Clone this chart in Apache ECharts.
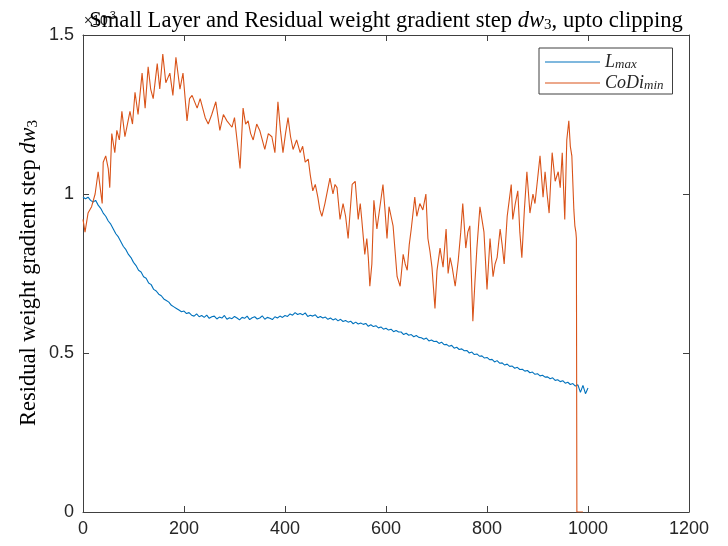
<!DOCTYPE html>
<html>
<head>
<meta charset="utf-8">
<script src="https://cdn.jsdelivr.net/npm/echarts@6/dist/echarts.min.js"></script>
<style>html,body{margin:0;padding:0;background:#fff}#c{width:728px;height:546px}</style>
</head>
<body>
<div id="c"></div>
<script>
// ---- data (values in units of 1e-3) ----
const xTicks = [0, 200, 400, 600, 800, 1000, 1200];
const yTicks = [0, 0.5, 1, 1.5];

const lmaxIter = [0,5,10,15,20,25,30,35,40,45,50,55,60,65,70,75,80,85,90,95,100,105,110,115,120,125,130,135,140,145,150,155,160,165,170,175,180,185,190,195,
200,205,210,215,220,225,230,235,240,245,250,255,260,265,270,275,280,285,290,295,300,305,310,315,320,325,330,335,340,345,350,355,360,365,370,375,380,385,390,395,
400,405,410,415,420,425,430,435,440,445,450,455,460,465,470,475,480,485,490,495,500,505,510,515,520,525,530,535,540,545,550,555,560,565,570,575,580,585,590,595,
600,605,610,615,620,625,630,635,640,645,650,655,660,665,670,675,680,685,690,695,700,705,710,715,720,725,730,735,740,745,750,755,760,765,770,775,780,785,790,795,
800,805,810,815,820,825,830,835,840,845,850,855,860,865,870,875,880,885,890,895,900,905,910,915,920,925,930,935,940,945,950,955,960,965,970,975,980,985,990,995,1000];
const lmaxVal = [0.99,0.985,0.99,0.98,0.975,0.98,0.965,0.955,0.94,0.93,0.915,0.905,0.89,0.875,0.865,0.85,0.835,0.825,0.81,0.80,0.785,0.775,0.76,0.755,0.74,0.735,0.72,0.715,0.70,0.695,0.685,0.68,0.67,0.665,0.66,0.65,0.645,0.64,0.635,0.63,
0.632,0.624,0.627,0.619,0.616,0.623,0.614,0.618,0.612,0.619,0.609,0.614,0.616,0.607,0.613,0.61,0.618,0.606,0.611,0.608,0.615,0.61,0.604,0.612,0.609,0.616,0.605,0.611,0.614,0.607,0.61,0.617,0.606,0.612,0.609,0.605,0.614,0.61,0.616,0.612,
0.618,0.615,0.623,0.619,0.627,0.621,0.624,0.62,0.626,0.615,0.619,0.616,0.62,0.611,0.615,0.61,0.613,0.606,0.61,0.604,0.608,0.601,0.606,0.599,0.602,0.597,0.60,0.592,0.597,0.591,0.594,0.59,0.593,0.584,0.589,0.583,0.586,0.579,0.582,0.575,
0.578,0.572,0.575,0.567,0.571,0.566,0.566,0.558,0.562,0.556,0.558,0.551,0.555,0.549,0.548,0.543,0.547,0.538,0.541,0.536,0.537,0.53,0.534,0.526,0.527,0.521,0.524,0.515,0.518,0.511,0.513,0.507,0.508,0.50,0.503,0.495,0.497,0.49,0.491,0.484,
0.486,0.479,0.48,0.472,0.476,0.468,0.469,0.462,0.465,0.458,0.459,0.452,0.455,0.448,0.449,0.443,0.445,0.438,0.44,0.433,0.435,0.428,0.43,0.424,0.425,0.419,0.422,0.414,0.416,0.41,0.413,0.405,0.408,0.401,0.404,0.396,0.40,0.376,0.398,0.372,0.39];

const codiIter = [0,4,10,17,24,30,34,38,40,45,50,53,57,63,67,72,77,83,88,93,98,103,109,117,123,129,134,139,147,152,158,164,172,178,184,192,198,206,211,216,226,232,242,248,255,263,271,278,285,295,300,305,311,317,322,327,332,337,344,350,360,367,374,380,386,391,396,401,406,411,416,423,430,435,440,446,450,455,460,465,469,473,479,484,489,495,499,503,509,515,520,525,533,539,545,549,552,558,562,565,568,572,576,582,588,594,598,602,606,610,614,618,622,628,634,638,642,646,650,657,661,667,673,679,683,687,691,697,701,707,713,719,723,727,731,737,743,748,752,758,762,766,772,776,780,786,790,794,800,806,812,816,820,826,830,834,840,844,848,851,856,861,865,869,874,879,885,891,895,899,905,911,915,919,923,929,935,941,945,949,954,958,962,965,968,972,974,976,977,978,990];
const codiVal = [0.92,0.88,0.94,0.96,1.00,1.07,1.02,0.97,1.10,1.12,1.08,1.02,1.19,1.13,1.20,1.17,1.26,1.18,1.22,1.26,1.22,1.32,1.25,1.38,1.27,1.40,1.33,1.30,1.41,1.33,1.44,1.35,1.38,1.31,1.43,1.33,1.38,1.23,1.30,1.31,1.27,1.30,1.24,1.22,1.25,1.29,1.20,1.25,1.23,1.21,1.24,1.17,1.08,1.27,1.22,1.23,1.19,1.17,1.22,1.20,1.14,1.19,1.18,1.13,1.29,1.20,1.13,1.19,1.24,1.18,1.14,1.17,1.13,1.15,1.10,1.11,1.06,1.01,1.03,0.99,0.95,0.93,0.97,1.01,1.05,1.00,1.03,1.02,0.92,0.97,0.93,0.86,1.03,1.04,0.92,0.97,0.92,0.81,0.86,0.80,0.71,0.78,0.98,0.89,0.96,1.03,0.95,0.86,0.96,0.93,0.90,0.82,0.74,0.71,0.81,0.78,0.76,0.84,0.89,0.99,0.93,0.97,0.95,1.00,0.86,0.82,0.77,0.64,0.76,0.83,0.77,0.89,0.75,0.80,0.77,0.71,0.79,0.88,0.97,0.83,0.88,0.90,0.60,0.72,0.83,0.96,0.92,0.88,0.70,0.86,0.74,0.78,0.80,0.89,0.84,0.78,0.93,0.98,1.03,0.92,0.97,1.01,0.88,0.80,0.95,1.07,0.94,1.00,0.97,1.03,1.12,0.99,1.07,1.00,0.94,1.13,1.04,1.07,1.02,1.13,0.92,1.17,1.23,1.15,1.12,0.95,0.90,0.88,0.86,0,0];

const C_BLUE = '#0072BD';
const C_ORANGE = '#D95319';
const AX = '#404040';
const SERIF = '"Liberation Serif", "DejaVu Serif", serif';
const SANS = '"Liberation Sans", Arial, sans-serif';

const chart = echarts.init(document.getElementById('c'), null, {renderer: 'canvas'});

const G = {left: 83, top: 35, right: 728 - 689, bottom: 546 - 512};

function baseAxis(extra) {
  return Object.assign({
    type: 'value',
    splitLine: {show: false},
    axisLine: {show: true, onZero: false, lineStyle: {color: AX, width: 1}},
    axisTick: {show: true, inside: true, length: 6, lineStyle: {color: AX, width: 1}},
  }, extra);
}

chart.setOption({
  animation: false,
  backgroundColor: '#fff',
  grid: Object.assign({containLabel: false}, G),
  xAxis: [
    baseAxis({position: 'bottom', min: xTicks[0], max: xTicks[xTicks.length - 1], interval: 200,
      axisLabel: {show: true, margin: 8, fontFamily: SANS, fontSize: 18, color: '#262626',
        formatter: v => String(v)}}),
    baseAxis({position: 'top', min: xTicks[0], max: xTicks[xTicks.length - 1], interval: 200,
      axisLabel: {show: false}})
  ],
  yAxis: [
    baseAxis({position: 'left', min: yTicks[0], max: yTicks[yTicks.length - 1], interval: 0.5,
      axisLabel: {show: true, margin: 9, fontFamily: SANS, fontSize: 18, color: '#262626',
        formatter: v => String(v)}}),
    baseAxis({position: 'right', min: yTicks[0], max: yTicks[yTicks.length - 1], interval: 0.5,
      axisLabel: {show: false}})
  ],
  legend: {
    orient: 'vertical',
    left: 539, top: 48,
    padding: [5, 9, 2, 6],
    itemGap: 3,
    itemWidth: 55, itemHeight: 1.2,
    backgroundColor: '#fff',
    borderColor: AX, borderWidth: 1,
    data: [{name: 'Lmax', icon: 'rect'}, {name: 'CoDimin', icon: 'rect'}],
    formatter: name => name === 'Lmax' ? '{i|L}{s|max}' : '{i|CoDi}{s|min}',
    textStyle: {
      color: '#262626',
      rich: {
        i: {fontFamily: SERIF, fontStyle: 'italic', fontSize: 18, lineHeight: 18, color: '#262626'},
        s: {fontFamily: SERIF, fontStyle: 'italic', fontSize: 13, lineHeight: 10, verticalAlign: 'bottom', color: '#262626'}
      }
    }
  },
  series: [
    {name: 'Lmax', type: 'line', xAxisIndex: 0, yAxisIndex: 0, showSymbol: false, symbol: 'none',
      lineStyle: {color: C_BLUE, width: 1.1}, itemStyle: {color: C_BLUE},
      data: lmaxIter.map((x, i) => [x, lmaxVal[i]])},
    {name: 'CoDimin', type: 'line', xAxisIndex: 0, yAxisIndex: 0, showSymbol: false, symbol: 'none',
      lineStyle: {color: C_ORANGE, width: 1.1}, itemStyle: {color: C_ORANGE},
      data: codiIter.map((x, i) => [x, codiVal[i]])}
  ],
  graphic: [
    {type: 'text', left: 84, top: 14, z: 10, style: {text: '×10', font: '14px ' + SANS, fill: '#262626'}},
    {type: 'text', left: 106, top: 10, z: 10, style: {text: '-3', font: '11px ' + SANS, fill: '#262626'}},
    {type: 'text', x: 386, y: 21, z: 11, style: {
      text: '{a|Small Layer and Residual weight gradient step }{i|dw}{s|3}{a|, upto clipping}',
      align: 'center', verticalAlign: 'middle',
      rich: {
        a: {fontFamily: SERIF, fontSize: 22.6, lineHeight: 24, fill: '#000', color: '#000'},
        i: {fontFamily: SERIF, fontStyle: 'italic', fontSize: 22.6, lineHeight: 24, fill: '#000', color: '#000'},
        s: {fontFamily: SERIF, fontSize: 15, lineHeight: 12, verticalAlign: 'bottom', fill: '#000', color: '#000'}
      }
    }},
    {type: 'text', x: 29, y: 273, rotation: Math.PI / 2, z: 11, style: {
      text: '{a|Residual weight gradient step }{i|dw}{s|3}',
      align: 'center', verticalAlign: 'middle',
      rich: {
        a: {fontFamily: SERIF, fontSize: 22.5, lineHeight: 24, fill: '#000', color: '#000'},
        i: {fontFamily: SERIF, fontStyle: 'italic', fontSize: 22.5, lineHeight: 24, fill: '#000', color: '#000'},
        s: {fontFamily: SERIF, fontSize: 15, lineHeight: 12, verticalAlign: 'bottom', fill: '#000', color: '#000'}
      }
    }}
  ]
});
</script>
</body>
</html>
